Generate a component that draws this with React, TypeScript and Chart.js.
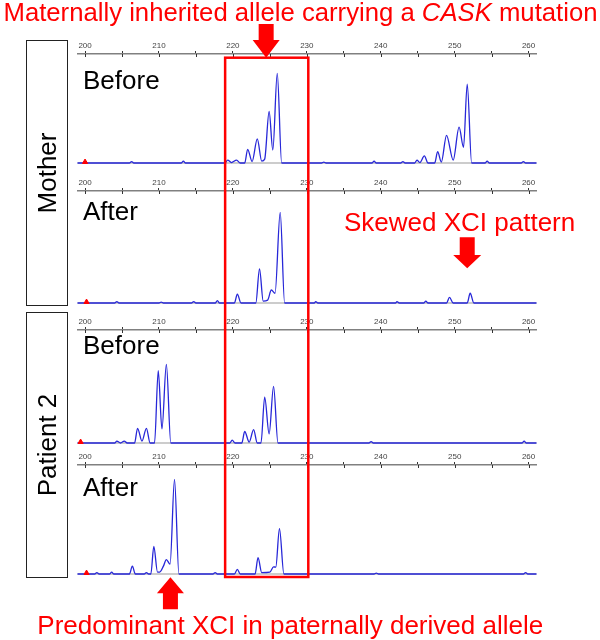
import React, { useEffect, useRef } from "react";
import { Chart, registerables } from "chart.js";

Chart.register(...registerables);

// ---------- data ----------
const X_MIN = 198.95;
const X_MAX = 261.1;
const TICK_STEP = 5;
const TICK_LABELS = ["200", "210", "220", "230", "240", "250", "260"];

const motherBeforeX = [198.95, 206, 206.3, 206.6, 213.0, 213.3, 213.6, 218.9, 219.3, 219.8, 220.5, 221.0, 221.6, 222.0, 222.6, 223.3, 223.9, 224.3, 224.9, 225.4, 226.0, 226.6, 232, 232.3, 232.6, 238.8, 239.1, 239.4, 242.7, 243.0, 243.3, 244.6, 244.9, 245.3, 245.9, 246.4, 247.3, 247.7, 248.2, 248.9, 249.8, 250.6, 251.2, 251.7, 252.3, 254.1, 254.4, 254.7, 259.0, 259.3, 259.6, 261.1];
const motherBeforeY = [0, 0, 1.5, 0, 0, 2, 0, 0, 3, 0.5, 3, 0, 0, 14, 1.5, 24.7, 2, 4, 52.7, 13.3, 91.7, 0, 0, 1, 0, 0, 2, 0, 0, 1.5, 0, 0, 3, 0.5, 7.3, 0, 0, 11.7, 1, 28.3, 3, 36.7, 16, 80.7, 0, 0, 2, 0, 0, 1.5, 0, 0];

const motherAfterX = [198.95, 204.0, 204.3, 204.6, 210.0, 210.3, 210.6, 214.4, 214.7, 215.0, 217.6, 217.9, 218.2, 220.2, 220.6, 221.1, 223.1, 223.6, 224.1, 224.7, 225.2, 225.7, 226.4, 227.0, 231.0, 231.2, 231.5, 242.0, 242.2, 242.5, 245.8, 246.1, 246.4, 248.9, 249.3, 249.8, 251.7, 252.1, 252.6, 261.1];
const motherAfterY = [0, 0, 1.5, 0, 0, 1, 0, 0, 1.5, 0, 0, 2.5, 0, 0, 9, 0, 0, 35, 2, 3, 13.3, 10, 92.7, 0, 0, 1.5, 0, 0, 1.5, 0, 0, 2, 0, 0, 5.7, 0, 0, 10, 0, 0];

const patientBeforeX = [198.95, 204.0, 204.3, 204.8, 205.3, 205.7, 206.7, 207.1, 207.7, 208.3, 208.8, 209.4, 209.9, 210.4, 211.0, 211.6, 219.6, 219.9, 220.3, 221.2, 221.6, 222.2, 222.8, 223.3, 223.8, 224.3, 224.9, 225.5, 226.1, 238.4, 238.7, 239.0, 259.1, 259.4, 259.7, 261.1];
const patientBeforeY = [0, 0, 2, 0, 2, 0, 0, 15, 2, 15, 0, 0, 73.7, 14.3, 80, 0, 0, 3, 0, 0, 11.7, 1, 13.7, 0, 0, 46.7, 9.3, 57.7, 0, 0, 1.5, 0, 0, 2, 0, 0];

const patientAfterX = [198.95, 201.3, 201.6, 201.9, 203.3, 203.6, 203.9, 206.0, 206.4, 206.8, 208.0, 208.3, 208.6, 208.9, 209.3, 209.8, 210.1, 210.6, 211.0, 211.5, 212.1, 212.7, 217.3, 217.6, 217.9, 220.2, 220.6, 221.0, 223.0, 223.4, 223.9, 225.0, 225.5, 225.8, 226.3, 226.9, 239.1, 239.4, 239.7, 259.3, 259.6, 259.9, 261.1];
const patientAfterY = [0, 0, 1.5, 0, 0, 2, 0, 0, 8, 0, 0, 1.5, 0, 0, 28, 2, 2, 8, 14.7, 10, 96.3, 0, 0, 1.5, 0, 0, 4.7, 0, 0, 16.7, 1.5, 2, 7.3, 7, 46.3, 0, 0, 1, 0, 0, 1.5, 0, 0];

const markerX = [200, 200.2, 199.4, 200.2];
const panelTitles = ["Before", "After", "Before", "After"];
const groupNames = ["Mother", "Patient 2"];
const highlightRange = [218.95, 230.2];
const arrowTopX = 224.5;
const arrowSkewX = 251.7;
const arrowBottomX = 211.55;

const traceXs = [motherBeforeX, motherAfterX, patientBeforeX, patientAfterX];
const traceYs = [motherBeforeY, motherAfterY, patientBeforeY, patientAfterY];

// ---------- layout ----------
const W = 600;
const H = 640;
const AXIS_Y = [53.5, 190.5, 330, 465];
const BASE_Y = [165, 305, 445, 576];
const TITLE_BASELINE = [89, 220, 354, 496];
const AXIS_BAND = 20;
const PAD_BOTTOM = 3;
const AREA_LEFT = 77.3;
const AREA_RIGHT = 536.7;
const RED = "#ff0000";
const FONT = "'Liberation Sans', Arial, sans-serif";

function baselineOffset(size: number) {
  return (size - 1.117 * size) / 2 + 0.905 * size;
}

const tickBelow = {
  id: "tickBelow",
  afterDraw(chart: any) {
    const s = chart.scales.x;
    const ctx = chart.ctx;
    const top = chart.chartArea.top;
    ctx.save();
    ctx.strokeStyle = "#333";
    ctx.lineWidth = 1;
    for (const t of s.ticks) {
      const x = Math.round(s.getPixelForValue(t.value)) + 0.5;
      ctx.beginPath();
      ctx.moveTo(x, top);
      ctx.lineTo(x, top + 3);
      ctx.stroke();
    }
    ctx.restore();
  },
};

function makeConfig(i: number): any {
  const span = BASE_Y[i] - AXIS_Y[i];
  const pts = traceXs[i].map((x, k) => ({ x, y: traceYs[i][k] }));
  return {
    type: "line",
    data: {
      datasets: [
        {
          type: "scatter",
          data: [{ x: markerX[i], y: 1 }],
          pointStyle: "triangle",
          pointRadius: 3,
          backgroundColor: RED,
          borderColor: RED,
          order: 0,
        },
        {
          data: pts,
          borderColor: "#2727d8",
          borderWidth: 1.3,
          pointRadius: 0,
          cubicInterpolationMode: "monotone",
          fill: false,
          order: 1,
        },
        {
          data: [
            { x: X_MIN, y: 0 },
            { x: X_MAX, y: 0 },
          ],
          borderColor: "#9a9a9a",
          borderWidth: 1.2,
          pointRadius: 0,
          order: 2,
        },
      ],
    },
    options: {
      responsive: false,
      animation: false,
      events: [],
      layout: {
        padding: { left: AREA_LEFT, right: W - AREA_RIGHT, top: 0, bottom: PAD_BOTTOM },
      },
      plugins: { legend: { display: false }, tooltip: { enabled: false } },
      scales: {
        x: {
          type: "linear",
          position: "top",
          min: X_MIN,
          max: X_MAX,
          afterFit: (s: any) => {
            s.height = AXIS_BAND;
          },
          ticks: {
            stepSize: TICK_STEP,
            includeBounds: false,
            autoSkip: false,
            maxRotation: 0,
            padding: 0,
            color: "#444",
            font: { family: FONT, size: 8 },
            callback: (v: number) => (TICK_LABELS.includes(String(v)) ? String(v) : ""),
          },
          grid: {
            display: true,
            drawOnChartArea: false,
            drawTicks: true,
            tickLength: 3,
            color: "#333",
            lineWidth: 1,
          },
          border: { display: true, color: "#808080", width: 1.5 },
        },
        y: { display: false, min: -1, max: span },
      },
    },
    plugins: [tickBelow],
  };
}

function drawArrow(
  ctx: CanvasRenderingContext2D,
  cx: number,
  tail: number,
  headBase: number,
  tip: number,
  shaftW: number,
  headW: number
) {
  ctx.beginPath();
  ctx.moveTo(cx - shaftW / 2, tail);
  ctx.lineTo(cx + shaftW / 2, tail);
  ctx.lineTo(cx + shaftW / 2, headBase);
  ctx.lineTo(cx + headW / 2, headBase);
  ctx.lineTo(cx, tip);
  ctx.lineTo(cx - headW / 2, headBase);
  ctx.lineTo(cx - shaftW / 2, headBase);
  ctx.closePath();
  ctx.fill();
}

function Text(props: {
  children: React.ReactNode;
  left?: number;
  center?: number;
  baseline: number;
  size: number;
  color?: string;
}) {
  const { left, center, baseline, size, color } = props;
  const style: React.CSSProperties = {
    position: "absolute",
    top: baseline - baselineOffset(size),
    fontFamily: FONT,
    fontSize: size,
    lineHeight: `${size}px`,
    color: color || "#000",
    whiteSpace: "nowrap",
    zIndex: 3,
  };
  if (center !== undefined) {
    style.left = center;
    style.transform = "translateX(-50%)";
  } else {
    style.left = left;
  }
  return <div style={style}>{props.children}</div>;
}

export default function App() {
  const r0 = useRef<HTMLCanvasElement>(null);
  const r1 = useRef<HTMLCanvasElement>(null);
  const r2 = useRef<HTMLCanvasElement>(null);
  const r3 = useRef<HTMLCanvasElement>(null);
  const refs = [r0, r1, r2, r3];
  const overlayRef = useRef<HTMLCanvasElement>(null);

  useEffect(() => {
    const charts = refs.map((r, i) => new Chart(r.current as HTMLCanvasElement, makeConfig(i)));
    const ov = overlayRef.current as HTMLCanvasElement;
    const ctx = ov.getContext("2d") as CanvasRenderingContext2D;
    ctx.clearRect(0, 0, W, H);
    const sx = charts[0].scales.x as any;
    const px = (v: number) => sx.getPixelForValue(v);
    // highlight box
    const top = AXIS_Y[0] + 4.2;
    const bottom = BASE_Y[3] + 1;
    ctx.strokeStyle = RED;
    ctx.lineWidth = 2.5;
    ctx.strokeRect(px(highlightRange[0]), top, px(highlightRange[1]) - px(highlightRange[0]), bottom - top);
    ctx.fillStyle = RED;
    drawArrow(ctx, px(arrowTopX), 24, 40, 57.7, 15, 27);
    drawArrow(ctx, px(arrowSkewX), 237.3, 255, 268.3, 15, 28);
    drawArrow(ctx, px(arrowBottomX), 609.3, 593.3, 577.3, 15, 27);
    return () => {
      charts.forEach((c) => c.destroy());
    };
  }, []);

  return (
    <div style={{ position: "absolute", left: 0, top: 0, width: W, height: H, background: "#fff", overflow: "hidden" }}>
      {refs.map((r, i) => {
        const h = AXIS_BAND + (BASE_Y[i] - AXIS_Y[i]) + 1 + PAD_BOTTOM;
        return (
          <canvas
            key={i}
            ref={r}
            width={W}
            height={h}
            style={{ position: "absolute", left: 0, top: AXIS_Y[i] - AXIS_BAND, width: W, height: h }}
          />
        );
      })}
      <canvas
        ref={overlayRef}
        width={W}
        height={H}
        style={{ position: "absolute", left: 0, top: 0, width: W, height: H, pointerEvents: "none", zIndex: 2 }}
      />
      {[
        [40, 305],
        [312, 577],
      ].map(([t, b], g) => (
        <div
          key={g}
          style={{
            position: "absolute",
            left: 26,
            top: t,
            width: 40,
            height: b - t - 1,
            border: "1px solid #222",
            zIndex: 3,
          }}
        >
          <div
            style={{
              position: "absolute",
              left: "50%",
              top: "50%",
              transform: "translate(-50%, -50%) rotate(-90deg)",
              fontFamily: FONT,
              fontSize: 26,
              lineHeight: "26px",
              whiteSpace: "nowrap",
              color: "#000",
            }}
          >
            {groupNames[g]}
          </div>
        </div>
      ))}
      {panelTitles.map((t, i) => (
        <Text key={i} left={83} baseline={TITLE_BASELINE[i]} size={26}>
          {t}
        </Text>
      ))}
      <Text center={300.5} baseline={21.5} size={25.7} color={RED}>
        Maternally inherited allele carrying a <i>CASK</i> mutation
      </Text>
      <Text left={344} baseline={230.7} size={26} color={RED}>
        Skewed XCI pattern
      </Text>
      <Text left={37.3} baseline={634} size={26} color={RED}>
        Predominant XCI in paternally derived allele
      </Text>
    </div>
  );
}
